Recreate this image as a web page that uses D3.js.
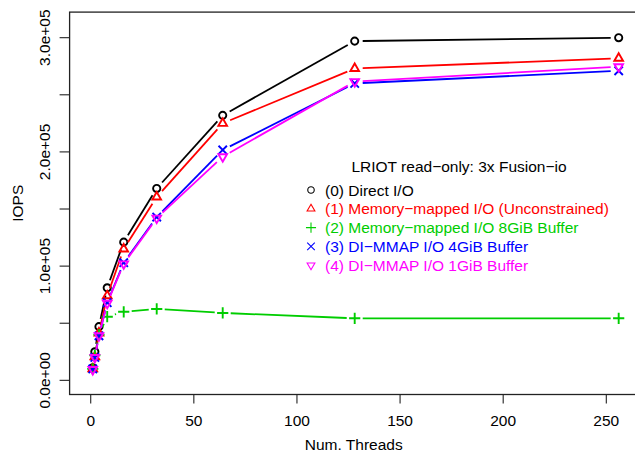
<!DOCTYPE html>
<html><head><meta charset="utf-8">
<script src="https://cdn.jsdelivr.net/npm/d3@7"></script>
<style>body{margin:0;background:#fff}svg{display:block}text{font-family:"Liberation Sans",Arial,sans-serif}</style>
</head><body><div id="chart"></div>
<script>
const threads = [1, 2, 4, 8, 16, 32, 64, 128, 256];
const directIO = [11000, 25000, 47000, 81000, 121000, 168000, 232000, 297000, 300000];
const mmapUnconstrained = [10000, 20500, 41500, 74000, 115000, 160500, 225000, 273000, 282000];
const mmap8GiB = [10000, 22000, 40000, 55700, 60000, 62500, 59000, 54300, 54300];
const dimmap4GiB = [10000, 20000, 39000, 68000, 103000, 143000, 201700, 260000, 271000];
const dimmap1GiB = [9500, 20000, 39000, 67500, 102000, 142000, 195800, 261500, 274600];
const seriesNames = ["(0)  Direct I/O", "(1)  Memory\u2212mapped I/O (Unconstrained)", "(2)  Memory\u2212mapped I/O 8GiB Buffer", "(3)  DI\u2212MMAP I/O 4GiB Buffer", "(4)  DI\u2212MMAP I/O 1GiB Buffer"];
const legendTitle = "LRIOT read\u2212only: 3x Fusion\u2212io";
const xTicks = [0, 50, 100, 150, 200, 250];
const yTicks = [0, 50000, 100000, 150000, 200000, 250000, 300000];
const yLabelTicks = [0, 100000, 200000, 300000];
const yTickLabels = ["0.0e+00", "1.0e+05", "2.0e+05", "3.0e+05"];
const xTitle = "Num. Threads";
const yTitle = "IOPS";

const colors = ["#000000", "#FF0000", "#00CD00", "#0000FF", "#FF00FF"];
const shapes = ["circle", "triUp", "plus", "cross", "triDown"];
const allSeries = [directIO, mmapUnconstrained, mmap8GiB, dimmap4GiB, dimmap1GiB];

const W = 635, H = 456;
const svg = d3.select("#chart").append("svg").attr("width", W).attr("height", H);
const x = d3.scaleLinear().domain([-10.24, 266.24]).range([69.6, 639.8]);
const y = d3.scaleLinear().domain([-12400, 322400]).range([394.5, 12.1]);
const FS = 15.5;

function symbolPath(shape, s) {
  const p = d3.path();
  if (shape === "circle") { p.moveTo(s*0.9, 0); p.arc(0, 0, s*0.9, 0, Math.PI*2); }
  else if (shape === "triUp") { const r = s*1.25; p.moveTo(0, -r); p.lineTo(r*0.866, r*0.5); p.lineTo(-r*0.866, r*0.5); p.closePath(); }
  else if (shape === "triDown") { const r = s*1.25; p.moveTo(0, r); p.lineTo(r*0.866, -r*0.5); p.lineTo(-r*0.866, -r*0.5); p.closePath(); }
  else if (shape === "plus") { const r = s*1.4; p.moveTo(-r, 0); p.lineTo(r, 0); p.moveTo(0, -r); p.lineTo(0, r); }
  else if (shape === "cross") { const r = s*1.05; p.moveTo(-r, -r); p.lineTo(r, r); p.moveTo(-r, r); p.lineTo(r, -r); }
  return p.toString();
}

// series
const gap = 8;
allSeries.forEach((vals, si) => {
  const g = svg.append("g");
  const pts = threads.map((t, i) => [x(t), y(vals[i])]);
  for (let i = 0; i < pts.length - 1; i++) {
    const [x0, y0] = pts[i], [x1, y1] = pts[i+1];
    const dx = x1 - x0, dy = y1 - y0, L = Math.hypot(dx, dy);
    if (L <= 2*gap) continue;
    const ux = dx/L, uy = dy/L;
    g.append("line").attr("x1", x0 + ux*gap).attr("y1", y0 + uy*gap)
      .attr("x2", x1 - ux*gap).attr("y2", y1 - uy*gap)
      .attr("stroke", colors[si]).attr("stroke-width", 1.8);
  }
  g.selectAll("path.pt").data(pts).enter().append("path").attr("class", "pt")
    .attr("transform", d => `translate(${d[0]},${d[1]})`)
    .attr("d", symbolPath(shapes[si], 4))
    .attr("fill", "none").attr("stroke", colors[si]).attr("stroke-width", 1.9);
});

// box
const bx0 = x.range()[0], bx1 = x.range()[1], by0 = y.range()[1], by1 = y.range()[0];
svg.append("rect").attr("x", bx0).attr("y", by0).attr("width", bx1 - bx0).attr("height", by1 - by0)
  .attr("fill", "none").attr("stroke", "#222").attr("stroke-width", 1.3);

// x axis
const xa = svg.append("g");
xTicks.forEach(t => {
  xa.append("line").attr("x1", x(t)).attr("x2", x(t)).attr("y1", by1).attr("y2", by1 + 9).attr("stroke", "#222").attr("stroke-width", 1.1);
  xa.append("text").attr("x", x(t)).attr("y", 426).attr("text-anchor", "middle").attr("font-size", FS).text(t);
});
svg.append("text").attr("x", (x(0) + x(256))/2 - 1).attr("y", 450).attr("text-anchor", "middle").attr("font-size", FS).text(xTitle);

// y axis
const ya = svg.append("g");
yTicks.forEach(t => {
  ya.append("line").attr("x1", bx0 - 10).attr("x2", bx0).attr("y1", y(t)).attr("y2", y(t)).attr("stroke", "#222").attr("stroke-width", 1.1);
});
yLabelTicks.forEach((t, i) => {
  ya.append("text").attr("transform", `translate(49.5,${y(t)}) rotate(-90)`).attr("text-anchor", "middle").attr("font-size", FS).text(yTickLabels[i]);
});
svg.append("text").attr("transform", `translate(22.5,${(by0 + by1)/2}) rotate(-90)`).attr("text-anchor", "middle").attr("font-size", FS).text(yTitle);

// legend
const lg = svg.append("g");
lg.append("text").attr("x", 459).attr("y", 171.5).attr("text-anchor", "middle").attr("font-size", FS).text(legendTitle);
seriesNames.forEach((n, i) => {
  const ry = 190 + i*18.8;
  lg.append("path").attr("transform", `translate(311,${ry})`).attr("d", symbolPath(shapes[i], 3.6))
    .attr("fill", "none").attr("stroke", colors[i]).attr("stroke-width", 1.1);
  lg.append("text").attr("x", 325).attr("y", ry + 5.5).attr("font-size", FS).attr("fill", colors[i]).text(n);
});
</script></body></html>
